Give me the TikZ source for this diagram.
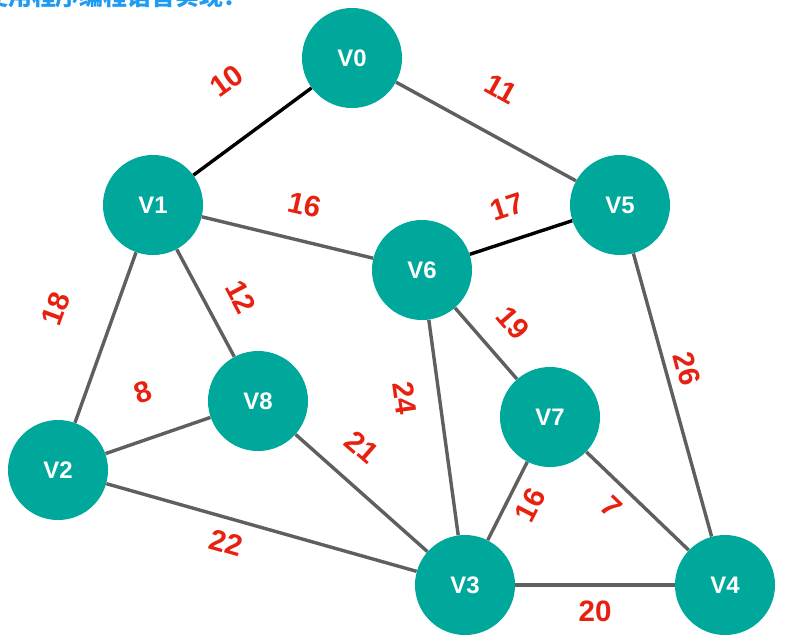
\documentclass[tikz,border=0pt]{standalone}
\usepackage{fontspec}
\setmainfont{Liberation Sans}
\newfontfamily\cjk{Noto Sans CJK SC}
\usetikzlibrary{positioning}
\definecolor{vteal}{RGB}{0,168,156}
\definecolor{egray}{RGB}{95,95,95}
\definecolor{wred}{RGB}{232,32,16}
\definecolor{tblue}{RGB}{30,155,240}
\tikzset{
  vx/.style={circle, fill=vteal, minimum size=2.5cm, inner sep=0pt, text=white, font=\fontsize{17}{20}\selectfont\bfseries},
  ed/.style={draw=egray, line width=0.085cm},
  tr/.style={draw=black, line width=0.085cm},
  wt/.style={text=wred, font=\fontsize{21}{24}\selectfont\bfseries, inner sep=0pt},
  ttl/.style={anchor=base west, text=tblue, inner sep=0pt, font=\cjk\bfseries\fontsize{17}{20}\selectfont},
}

\begin{document}
\begin{tikzpicture}[x=0.025cm, y=-0.025cm]
\useasboundingbox (0,0) rectangle (794,640);
\node[ttl] (head) at (-16,5) {使用程序编程语言实现：};
\node[vx] (v0) at (352,58) {V0};
\node[vx] (v1) at (153,205) {V1};
\node[vx] (v5) at (620,205) {V5};
\node[vx] (v6) at (422,270) {V6};
\node[vx] (v8) at (258,401) {V8};
\node[vx] (v7) at (550,417) {V7};
\node[vx] (v2) at (58,470) {V2};
\node[vx] (v3) at (465,585) {V3};
\node[vx] (v4) at (725,585) {V4};
\draw[tr] (v1) -- (v0); \draw[tr] (v6) -- (v5);
\draw[ed] (v0) -- (v5); \draw[ed] (v1) -- (v6);
\draw[ed] (v1) -- (v2); \draw[ed] (v1) -- (v8);
\draw[ed] (v2) -- (v8); \draw[ed] (v2) -- (v3);
\draw[ed] (v8) -- (v3); \draw[ed] (v6) -- (v3);
\draw[ed] (v6) -- (v7); \draw[ed] (v7) -- (v3);
\draw[ed] (v7) -- (v4); \draw[ed] (v5) -- (v4);
\draw[ed] (v3) -- (v4);
\node[wt, rotate=36] (w01) at (227,81) {10};
\node[wt, rotate=-29] (w05) at (501,89) {11};
\node[wt, rotate=-13] (w16) at (305,205) {16};
\node[wt, rotate=18] (w56) at (507,207) {17};
\node[wt, rotate=70] (w12) at (56,309) {18};
\node[wt, rotate=-62] (w18) at (241,297) {12};
\node[wt, rotate=19] (w28) at (143,392) {8};
\node[wt, rotate=-82] (w36) at (405,398) {24};
\node[wt, rotate=-49] (w67) at (513,323) {19};
\node[wt, rotate=-41] (w38) at (362,447) {21};
\node[wt, rotate=-75] (w45) at (687,369) {26};
\node[wt, rotate=63] (w37) at (530,505) {16};
\node[wt, rotate=-44] (w47) at (611,507) {7};
\node[wt, rotate=-16] (w23) at (226,543) {22};
\node[wt] (w34) at (595,611) {20};
\end{tikzpicture}
\end{document}
